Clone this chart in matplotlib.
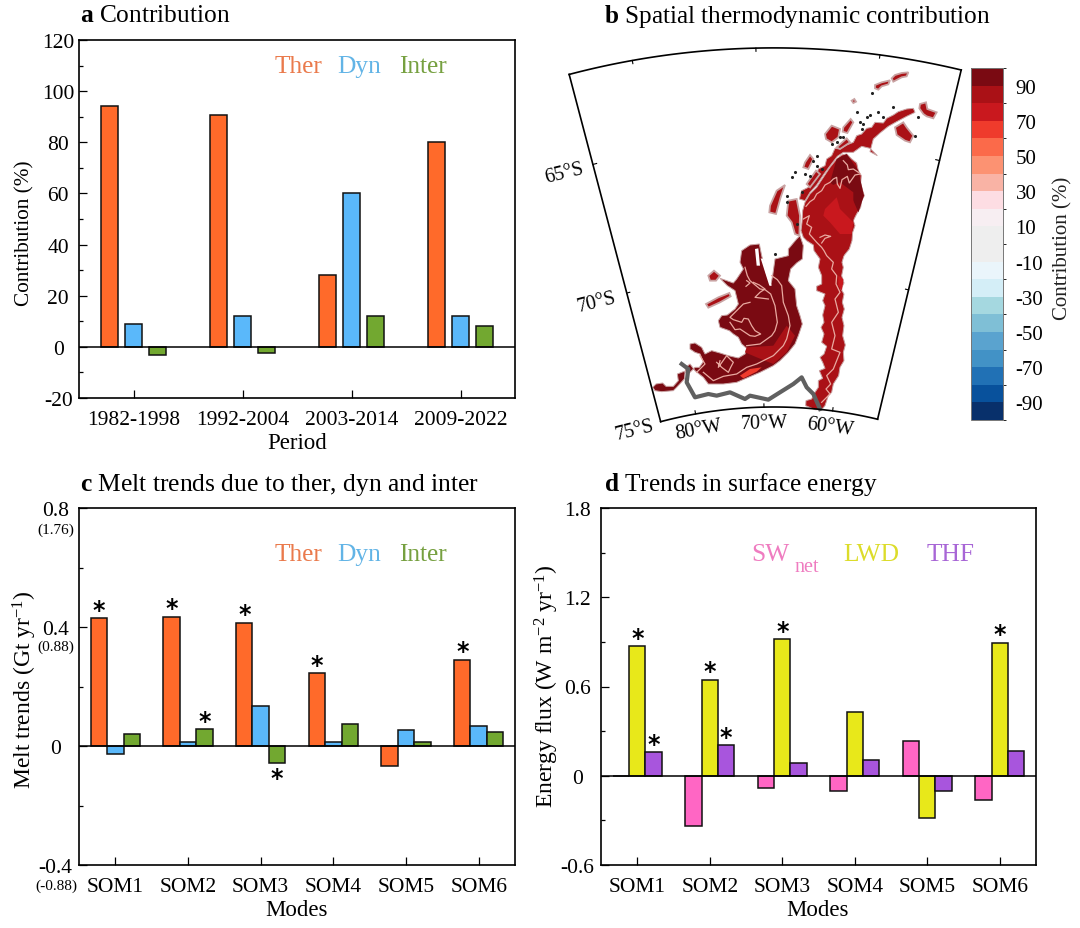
import numpy as np
import matplotlib
matplotlib.use('Agg')
import matplotlib.pyplot as plt
from matplotlib.cm import ScalarMappable
from matplotlib.colors import ListedColormap, BoundaryNorm

plt.rcParams['font.family'] = ['Liberation Serif', 'DejaVu Serif']
plt.rcParams['mathtext.fontset'] = 'custom'
plt.rcParams['mathtext.rm'] = 'Liberation Serif'
plt.rcParams['mathtext.it'] = 'Liberation Serif:italic'
plt.rcParams['mathtext.bf'] = 'Liberation Serif:bold'
plt.rcParams['mathtext.default'] = 'regular'

W, H = 1080, 929

# panel a
periods = ['1982-1998', '1992-2004', '2003-2014', '2009-2022']
a_ther = [94, 90.5, 28, 80]
a_dyn = [9, 12, 60, 12]
a_inter = [-3, -2.5, 12, 8]

# panel c
modes = ['SOM1', 'SOM2', 'SOM3', 'SOM4', 'SOM5', 'SOM6']
c_ther = [0.43, 0.435, 0.415, 0.245, -0.067, 0.29]
c_dyn = [-0.027, 0.013, 0.135, 0.012, 0.053, 0.068]
c_inter = [0.04, 0.057, -0.058, 0.073, 0.012, 0.047]
c_ther_sig = [True, True, True, True, False, True]
c_dyn_sig = [False, False, False, False, False, False]
c_inter_sig = [False, True, True, False, False, False]

# panel d
d_sw = [-0.005, -0.335, -0.08, -0.105, 0.235, -0.165]
d_lwd = [0.87, 0.645, 0.92, 0.43, -0.285, 0.895]
d_thf = [0.16, 0.205, 0.085, 0.105, -0.105, 0.165]
d_sw_sig = [False, False, False, False, False, False]
d_lwd_sig = [True, True, True, False, False, True]
d_thf_sig = [True, True, False, False, False, False]

# panel b colour classes, low to high
cbar_colors = ['#08306b', '#08519c', '#2171b5', '#4292c6', '#5aa3cf', '#7fbfd6', '#a5d8e0',
               '#d4eef7', '#eaf5fb', '#eeeeee', '#eeeeee', '#f7eef2', '#fddde3', '#f9b3a5',
               '#fc9272', '#fb6a4a', '#ef3b2c', '#c9181e', '#aa1116', '#7a0a12']
cbar_levels = list(range(-100, 101, 10))
cbar_ticks = list(range(-90, 91, 20))

# map outlines (map grid units, y down)
east_pts = [(620, 285), (635, 300), (650, 312), (655, 335), (664, 350), (662, 372), (668, 395), (673, 410), (665, 425),
            (662, 445), (650, 465), (640, 485), (645, 500), (638, 520), (636, 545), (628, 570), (612, 590), (606, 610),
            (610, 625), (605, 650), (612, 672), (603, 690), (612, 705), (607, 730), (613, 750), (606, 775), (612, 800),
            (608, 830), (616, 858), (610, 880), (612, 905), (600, 925), (596, 950), (580, 975), (575, 1000), (565, 1010),
            (555, 1040), (545, 1052), (525, 1052), (497, 1040), (498, 1025), (515, 1020), (525, 1000), (535, 985),
            (535, 965), (548, 958), (538, 935), (555, 928), (548, 910), (540, 895), (552, 885), (560, 862), (545, 850),
            (552, 825), (543, 805), (552, 790), (548, 768), (555, 740), (548, 725), (555, 705), (530, 695), (530, 682),
            (545, 675), (545, 650), (535, 625), (540, 600), (522, 575), (520, 558), (500, 545), (490, 535), (483, 515),
            (486, 490), (488, 455), (495, 430), (510, 405), (530, 385), (550, 355), (570, 325), (590, 300), (605, 288)]
west_pts = [(38, 985), (48, 975), (68, 972), (78, 982), (100, 982), (115, 965), (112, 945), (130, 938), (150, 940),
            (165, 925), (178, 925), (190, 908), (180, 885), (165, 880), (150, 870), (150, 855), (165, 852), (185, 865),
            (195, 885), (215, 875), (240, 882), (265, 890), (295, 897), (315, 885), (320, 868), (305, 855), (295, 835),
            (280, 825), (268, 815), (240, 805), (235, 785), (245, 770), (262, 768), (285, 750), (295, 735), (285, 695),
            (262, 680), (240, 658), (280, 672), (290, 660), (310, 630), (300, 610), (305, 575), (330, 558), (358, 555),
            (365, 590), (378, 640), (392, 680), (398, 650), (405, 600), (425, 595), (445, 590), (445, 570), (470, 540),
            (480, 530), (490, 560), (487, 600), (470, 612), (452, 630), (445, 665), (465, 690), (470, 740), (480, 770),
            (487, 795), (475, 830), (465, 855), (445, 880), (420, 905), (400, 920), (360, 940), (325, 955), (290, 970),
            (250, 975), (205, 975), (190, 955), (165, 935), (150, 915), (137, 925), (133, 960), (110, 985), (100, 995),
            (65, 998), (45, 995)]
strip_pts = [(820, 148), (800, 150), (775, 158), (760, 168), (740, 178), (730, 192), (705, 190), (695, 205), (680, 208),
             (665, 225), (650, 230), (640, 250), (620, 258), (600, 270), (585, 268), (575, 290), (560, 300), (555, 320),
             (535, 330), (530, 350), (510, 360), (505, 385), (485, 395), (478, 420), (495, 425), (510, 400), (530, 378),
             (552, 345), (572, 318), (592, 292), (610, 280), (640, 280), (665, 262), (690, 268), (712, 290), (690, 278),
             (700, 240), (720, 222), (745, 202), (770, 188), (800, 172), (825, 160)]

ne_dark_x = [620, 655, 672, 655, 640, 600, 570, 590]
ne_dark_y = [285, 335, 410, 460, 425, 395, 370, 300]
inner_x = [530, 560, 600, 640, 640, 625, 610, 590, 560, 530, 515, 520]
inner_y = [420, 385, 370, 400, 490, 550, 590, 600, 590, 560, 520, 460]
core_x = [555, 590, 600, 640, 635, 600, 570, 550]
core_y = [450, 415, 450, 490, 525, 525, 490, 470]
south_x = [320, 400, 440, 465, 440, 400, 350, 315]
south_y = [865, 860, 800, 830, 880, 915, 895, 880]
streak_x = [300, 330, 365, 350, 310]
streak_y = [950, 930, 925, 938, 958]
streak2_x = [595, 610, 606, 595]
streak2_y = [650, 660, 695, 680]
slit1_x = [345, 355, 360, 350]
slit1_y = [570, 568, 620, 620]
slit2_x = [362, 370, 395, 388]
slit2_y = [598, 600, 680, 680]

islands = [
    [(755, 58), (765, 48), (785, 42), (805, 40), (800, 52), (785, 55), (760, 68)],
    [(705, 78), (725, 70), (750, 64), (745, 76), (725, 82), (715, 92), (705, 88)],
    [(840, 135), (858, 130), (862, 150), (890, 160), (880, 178), (860, 172), (850, 165), (838, 148)],
    [(765, 205), (790, 190), (800, 205), (820, 230), (810, 250), (795, 245), (770, 228)],
    [(555, 225), (575, 200), (600, 210), (595, 235), (575, 250), (558, 240)],
    [(610, 205), (632, 180), (640, 190), (622, 222), (608, 218)],
    [(390, 440), (410, 395), (435, 378), (422, 415), (408, 465), (388, 460)],
    [(445, 425), (470, 420), (480, 470), (478, 530), (465, 525), (455, 490), (440, 470)],
    [(495, 310), (510, 288), (520, 300), (505, 330), (490, 325)],
    [(205, 650), (222, 635), (240, 650), (228, 665), (210, 665)],
    [(198, 735), (235, 715), (268, 702), (272, 712), (240, 730), (205, 746)],
    [(635, 125), (643, 120), (648, 128), (640, 132)],
    [(590, 265), (620, 238), (630, 250), (600, 270)],
    [(500, 375), (528, 335), (540, 345), (510, 385)],
]
specks_x = [695, 650, 715, 760, 680, 690, 600, 590, 455, 465, 520, 530, 545, 730, 660, 405, 485, 495, 440, 575, 610,
            665, 670, 825, 835, 440, 470, 530, 510]
specks_y = [103, 160, 158, 143, 175, 168, 235, 250, 355, 340, 305, 320, 330, 175, 190, 585, 400, 345, 430, 255, 235,
            210, 195, 232, 175, 410, 495, 290, 350]

contours = [
    ([498, 510, 522, 530, 545, 555, 570, 580, 590, 592, 600, 606, 622, 628, 645, 660],
     [442, 428, 420, 405, 395, 378, 370, 360, 355, 375, 388, 362, 352, 372, 348, 345]),
    ([610, 622, 625, 640, 655], [305, 318, 332, 330, 340]),
    ([490, 508, 500, 515, 508, 530, 545, 552, 560, 580, 575, 590, 588, 600, 585, 595, 575, 585, 575, 600, 590, 580, 560,
      572, 558, 570, 545],
     [480, 470, 495, 505, 525, 550, 565, 575, 590, 610, 630, 650, 675, 700, 720, 760, 790, 830, 870, 880, 905, 930, 950,
      975, 990, 1005, 1030]),
    ([540, 555, 572, 555, 545], [535, 528, 532, 538, 552]),
    ([315, 322, 330, 360, 375, 392, 405, 412, 405, 395, 360, 320], [625, 650, 665, 690, 692, 705, 740, 790, 815, 830, 855,
                                                                    860]),
    ([395, 412, 425, 430, 445, 450, 440, 430, 400, 350, 320, 290, 250, 220, 190],
     [650, 662, 680, 730, 770, 800, 840, 860, 890, 915, 925, 945, 952, 965, 940]),
    ([330, 310, 290, 270, 280, 305, 312, 325, 335, 345, 362, 345, 330, 300, 285, 270],
     [730, 735, 755, 775, 782, 790, 778, 780, 800, 815, 825, 832, 830, 810, 812, 790]),
    ([320, 330, 318], [665, 672, 682]),
    ([340, 358, 375, 360, 345, 385], [670, 678, 690, 700, 715, 720]),
    ([240, 235, 260, 280, 272, 265, 245, 230], [905, 925, 890, 910, 925, 940, 925, 910]),
    ([170, 195, 180], [940, 915, 890]),
]
front_x = [125, 145, 140, 165, 205, 230, 270, 315, 330, 385, 420, 460, 485, 500, 520, 540]
front_y = [915, 930, 970, 1015, 1005, 1010, 1000, 1020, 1010, 1022, 1000, 975, 955, 985, 1005, 1050]

lon_ticks = [80, 70, 60]
lat_ticks = [65, 70]
lat_label_lon = {65: 2.7, 70: 3.5, 75: 4.0}
lon_west, lon_east = 85.2, 53.35
lat_south, lat_north = 75, 61.5


def px_axes(fig, left, top, right, bottom):
    return fig.add_axes([left / W, 1 - bottom / H, (right - left) / W, (bottom - top) / H])


def fig_text(fig, x, y, s, **kw):
    kw.setdefault('va', 'center')
    return fig.text(x / W, 1 - y / H, s, **kw)


def bar_panel(ax, labels, series, colors, width, step, sigs=None):
    x = np.arange(1, len(labels) + 1)
    for i, (vals, col) in enumerate(zip(series, colors)):
        xs = x + (i - 1) * step
        ax.bar(xs, vals, width=width, color=col, edgecolor='#111111', linewidth=1.1, zorder=3)
        if sigs is not None:
            for xi, v, s in zip(xs, vals, sigs[i]):
                if s:
                    off = 1.0 if v > 0 else -15.5
                    ax.annotate('*', (xi, v), xytext=(0, off), textcoords='offset points', ha='center',
                                va='baseline', fontsize=17, family='DejaVu Sans', weight='bold', color='black',
                                zorder=4)
    ax.axhline(0, color='black', lw=1.1, zorder=4)
    ax.set_xlim(0.5, len(labels) + 0.5)
    ax.set_xticks(x)
    ax.set_xticklabels(labels, fontsize=15.5)
    ax.tick_params(axis='x', direction='in', length=6, width=0.9, pad=9, top=False)
    ax.tick_params(axis='y', which='major', direction='in', length=6, width=0.9, right=False)
    ax.tick_params(axis='y', which='minor', direction='in', length=3.2, width=0.9, right=False)
    for sp in ax.spines.values():
        sp.set_linewidth(1.2)


def y_labels(ax, ticks, labels, minor, pad):
    ax.set_yticks(ticks)
    ax.set_yticklabels(labels, fontsize=15.5, ha='center', va='center_baseline')
    ax.set_yticks(minor, minor=True)
    ax.tick_params(axis='y', which='major', pad=pad)


fig = plt.figure(figsize=(W / 100, H / 100), dpi=100)

ther_col, dyn_col, inter_col = '#ff6a2a', '#5ab8fa', '#72a830'
sw_col, lwd_col, thf_col = '#ff66c4', '#e8e81a', '#a855dd'

# a
ax_a = px_axes(fig, 79, 41, 515, 399)
bar_panel(ax_a, periods, [a_ther, a_dyn, a_inter], [ther_col, dyn_col, inter_col], 0.16, 0.22)
ax_a.set_ylim(-20, 120)
y_labels(ax_a, list(range(-20, 121, 20)), [str(v) for v in range(-20, 121, 20)], list(range(-10, 120, 20)), 15)
fig_text(fig, 25, 233, 'Contribution (%)', rotation=90, ha='center', fontsize=15.3)
fig_text(fig, 297, 444, 'Period', ha='center', fontsize=16.5)
fig_text(fig, 80, 16, r'$\mathbf{a}$ Contribution', fontsize=18.3)
for x, s, c in [(275, 'Ther', '#ea7a4c'), (337, 'Dyn', '#62b4e6'), (399, 'Inter', '#76a040')]:
    fig_text(fig, x, 67, s, color=c, fontsize=18.3)

# c
ax_c = px_axes(fig, 79, 509, 515, 866)
bar_panel(ax_c, modes, [c_ther, c_dyn, c_inter], [ther_col, dyn_col, inter_col], 0.225, 0.225,
          [c_ther_sig, c_dyn_sig, c_inter_sig])
ax_c.set_ylim(-0.4, 0.8)
y_labels(ax_c, [-0.4, 0, 0.4, 0.8], ['-0.4', '0', '0.4', '0.8'], [-0.2, 0.2, 0.6], 17)
fig_text(fig, 25, 690, 'Melt trends (Gt yr$^{-1}$)', rotation=90, ha='center', fontsize=17)
fig_text(fig, 297, 911, 'Modes', ha='center', fontsize=16.5)
fig_text(fig, 80, 485, r'$\mathbf{c}$ Melt trends due to ther, dyn and inter', fontsize=18.4)
for x, s, c in [(275, 'Ther', '#ea7a4c'), (337, 'Dyn', '#62b4e6'), (399, 'Inter', '#76a040')]:
    fig_text(fig, x, 555, s, color=c, fontsize=18.3)
for y, s in [(530, '(1.76)'), (647, '(0.88)'), (886, '(-0.88)')]:
    fig_text(fig, 56, y, s, ha='center', fontsize=11)

# d
ax_d = px_axes(fig, 601, 509, 1036, 866)
bar_panel(ax_d, modes, [d_sw, d_lwd, d_thf], [sw_col, lwd_col, thf_col], 0.225, 0.225,
          [d_sw_sig, d_lwd_sig, d_thf_sig])
ax_d.set_ylim(-0.6, 1.8)
y_labels(ax_d, [-0.6, 0, 0.6, 1.2, 1.8], ['-0.6', '0', '0.6', '1.2', '1.8'], [-0.3, 0.3, 0.9, 1.5], 17)
fig_text(fig, 547, 686, 'Energy flux (W m$^{-2}$ yr$^{-1}$)', rotation=90, ha='center', fontsize=17)
fig_text(fig, 818, 911, 'Modes', ha='center', fontsize=16.5)
fig_text(fig, 604, 485, r'$\mathbf{d}$ Trends in surface energy', fontsize=18.3)
fig_text(fig, 751, 555, 'SW', color='#ef7cc0', fontsize=18.3)
fig_text(fig, 794, 568, 'net', color='#ef7cc0', fontsize=14.5)
fig_text(fig, 843, 555, 'LWD', color='#dcdc2a', fontsize=18.3)
fig_text(fig, 927, 555, 'THF', color='#a866d6', fontsize=18.3)

# b
fig_text(fig, 604, 16, r'$\mathbf{b}$ Spatial thermodynamic contribution', fontsize=18.2)
cmap = ListedColormap(cbar_colors)
norm = BoundaryNorm(cbar_levels, cmap.N)

# map axes: grid units are 3 per pixel
ax_b = px_axes(fig, 540, 30, 965, 450)
ax_b.set_xlim((540 - 640) * 3, (965 - 640) * 3)
ax_b.set_ylim((450 - 60) * 3, (30 - 60) * 3)
ax_b.axis('off')

APEX_X, APEX_Y = 402, 2379


def lon_angle(lon):
    return -1.29 + 0.886 * (70 - np.asarray(lon, dtype=float))


def project(lon, lat):
    theta = np.radians(lon_angle(lon))
    r = 1335 + (75 - np.asarray(lat, dtype=float)) * 79.8
    return APEX_X + r * np.sin(theta), APEX_Y - r * np.cos(theta)


def fill_pts(ax, pts, value, **kw):
    xs, ys = zip(*pts)
    ax.fill(xs, ys, color=cmap(norm(value)), **kw)


edge = '#c9a3a3'
fill_pts(ax_b, east_pts, 85, ec=edge, lw=0.7, zorder=2)
fill_pts(ax_b, west_pts, 95, ec=edge, lw=0.7, zorder=2)
fill_pts(ax_b, strip_pts, 85, ec=edge, lw=0.7, zorder=2)
for pts in islands:
    fill_pts(ax_b, pts, 85, ec=edge, lw=1.3, zorder=2)
ax_b.fill(south_x, south_y, color=cmap(norm(85)), lw=0, zorder=2.1)
ax_b.fill(ne_dark_x, ne_dark_y, color=cmap(norm(95)), lw=0, zorder=2.1)
ax_b.fill(inner_x, inner_y, color=cmap(norm(85)), lw=0, zorder=2.15)
ax_b.fill(core_x, core_y, color=cmap(norm(75)), lw=0, zorder=2.2)
ax_b.fill(streak_x, streak_y, color=cmap(norm(65)), lw=0, zorder=2.2)
ax_b.fill(streak2_x, streak2_y, color=cmap(norm(75)), lw=0, zorder=2.2)
ax_b.fill(slit1_x, slit1_y, color='white', lw=0, zorder=2.3)
ax_b.fill(slit2_x, slit2_y, color='white', lw=0, zorder=2.3)
ax_b.scatter(specks_x, specks_y, s=5, color='#222222', lw=0, zorder=2)
for xs, ys in contours:
    ax_b.plot(xs, ys, color='#e9a9a0', lw=0.9, zorder=3)
ax_b.plot(front_x, front_y, color='#606060', lw=3.0, zorder=4, solid_joinstyle='round')

# sector frame
lon_line = np.linspace(lon_west, lon_east, 80)
for lat in (lat_north, lat_south):
    frame_x, frame_y = project(lon_line, np.full(80, lat))
    ax_b.plot(frame_x, frame_y, color='black', lw=1.2, zorder=5)
for lon in (lon_west, lon_east):
    frame_x, frame_y = project([lon, lon], [lat_south, lat_north])
    ax_b.plot(frame_x, frame_y, color='black', lw=1.2, zorder=5)

for lon in lon_ticks:
    for lat, d in ((lat_south, -0.12), (lat_north, 0.12)):
        tx, ty = project([lon, lon], [lat, lat + d])
        ax_b.plot(tx, ty, color='black', lw=0.8, zorder=5)
    lx, ly = project(lon, lat_south + 0.6)
    ax_b.text(lx, ly, f'{lon}°W', ha='center', va='center', rotation=-float(lon_angle(lon)), fontsize=14.5, zorder=6)
for lat in lat_ticks:
    for lon, d in ((lon_west, -0.35), (lon_east, 0.35)):
        tx, ty = project([lon, lon + d], [lat, lat])
        ax_b.plot(tx, ty, color='black', lw=0.8, zorder=5)
for lat, off in lat_label_lon.items():
    lx, ly = project(lon_west + off, lat)
    ax_b.text(lx, ly, f'{lat}°S', ha='center', va='center', rotation=14, fontsize=14.5, zorder=6)

# colorbar
ax_cb = px_axes(fig, 971, 69, 1003, 421)
cb = fig.colorbar(ScalarMappable(norm=norm, cmap=cmap), cax=ax_cb, ticks=cbar_ticks, spacing='proportional')
cb.ax.set_yticklabels([str(v) for v in cbar_ticks], fontsize=15)
cb.ax.tick_params(length=0, pad=9)
cb.outline.set_edgecolor('#777777')
cb.outline.set_linewidth(0.7)
fig_text(fig, 1063, 248, 'Contribution (%)', rotation=90, ha='center', fontsize=15, color='#222222')

fig.savefig('out.png', dpi=100)
